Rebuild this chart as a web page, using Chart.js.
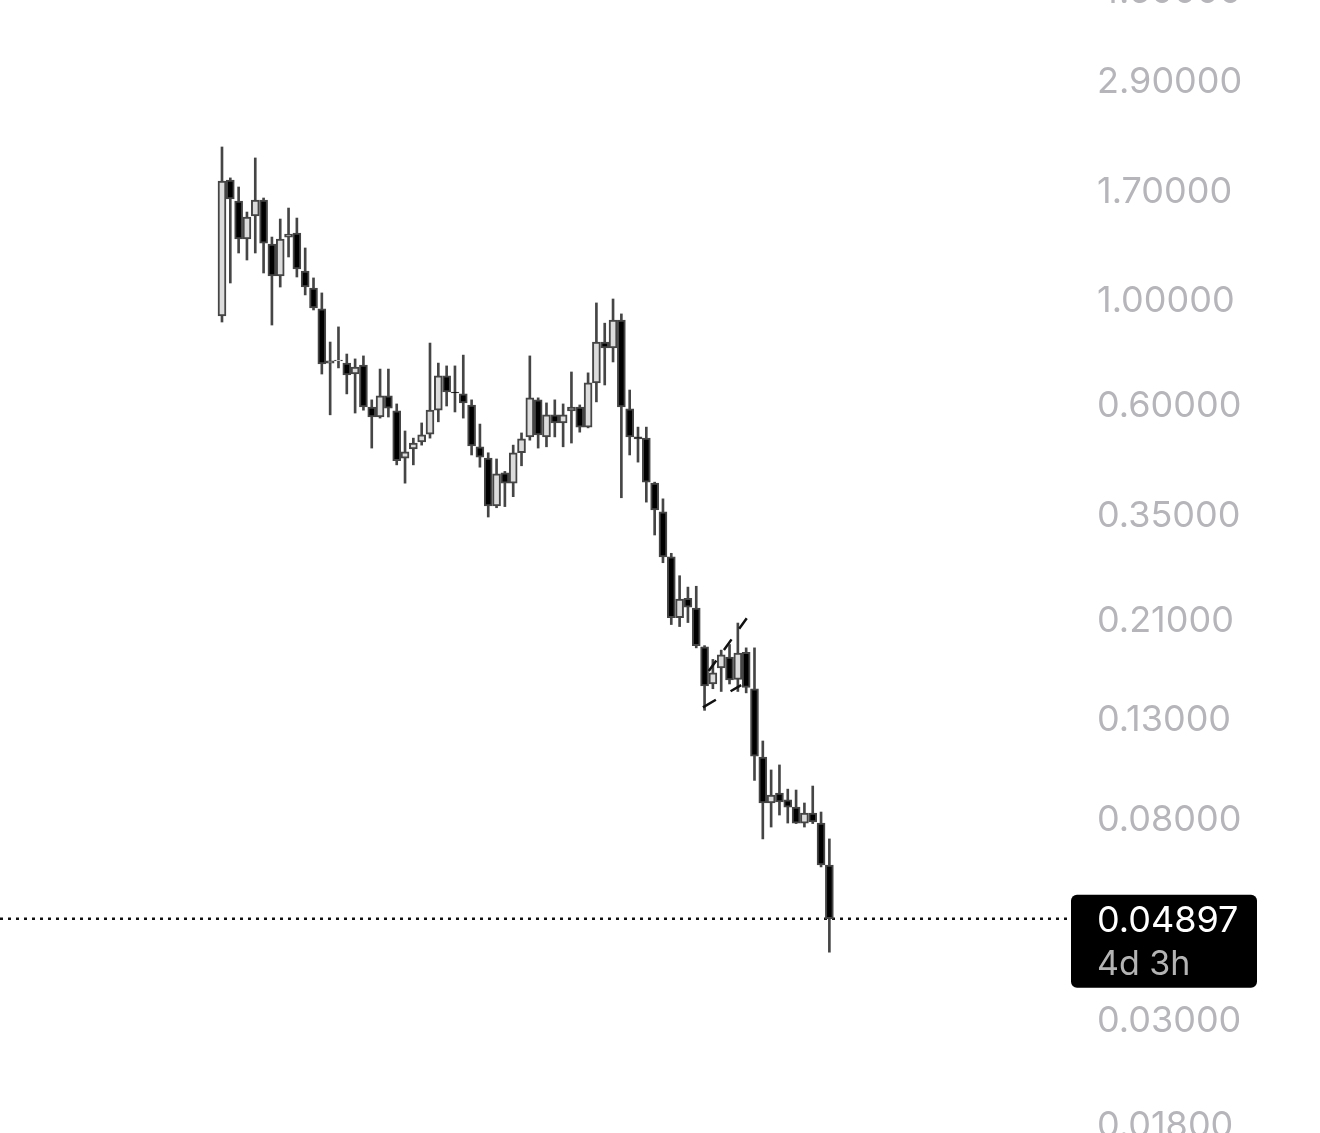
<!DOCTYPE html>
<html lang="en">
<head>
    <meta charset="UTF-8">
    <title>Candles</title>
    <script src="https://cdn.jsdelivr.net/npm/chart.js"></script>
    <style>
        body { margin: 0; background: #fff; }
        #wrap { position: relative; width: 1320px; height: 1133px; }
    </style>
</head>
<body>
    <div id="wrap"><canvas id="chart"></canvas></div>

    <script>
        // OHLC values, oldest first
        const opens = [0.921, 1.785, 1.611, 1.339, 1.498, 1.619, 1.307, 1.119, 1.352, 1.379,
            1.146, 1.055, 0.953, 0.732, 0.740, 0.732, 0.694, 0.725, 0.591, 0.563,
            0.624, 0.580, 0.461, 0.482, 0.499, 0.518, 0.582, 0.688, 0.636, 0.630,
            0.597, 0.487, 0.461, 0.365, 0.429, 0.408, 0.473, 0.511, 0.612, 0.511,
            0.569, 0.547, 0.580, 0.591, 0.536, 0.665, 0.811, 0.788, 0.903, 0.586,
            0.511, 0.508, 0.408, 0.355, 0.285, 0.212, 0.233, 0.222, 0.184, 0.1535,
            0.166, 0.175, 0.157, 0.179, 0.150, 0.1076, 0.0860, 0.0903, 0.0873, 0.0843,
            0.0780, 0.0819, 0.0780, 0.0636];
        const highs = [2.096, 1.803, 1.725, 1.527, 1.987, 1.635, 1.352, 1.476, 1.557, 1.483,
            1.282, 1.108, 1.030, 0.811, 0.873, 0.765, 0.747, 0.758, 0.612, 0.711,
            0.711, 0.600, 0.526, 0.508, 0.547, 0.807, 0.732, 0.722, 0.722, 0.761,
            0.612, 0.544, 0.473, 0.459, 0.432, 0.491, 0.521, 0.758, 0.618, 0.603,
            0.612, 0.600, 0.701, 0.597, 0.698, 0.981, 0.889, 1.000, 0.930, 0.642,
            0.536, 0.536, 0.410, 0.378, 0.290, 0.260, 0.246, 0.247, 0.185, 0.173,
            0.181, 0.186, 0.2065, 0.183, 0.183, 0.1163, 0.1010, 0.1035, 0.0920, 0.0916,
            0.0860, 0.0934, 0.0823, 0.0722];
        const lows = [0.894, 1.081, 1.251, 1.209, 1.251, 1.135, 0.881, 1.060, 1.227, 1.113,
            1.020, 0.948, 0.694, 0.569, 0.715, 0.630, 0.574, 0.582, 0.484, 0.560,
            0.563, 0.446, 0.408, 0.446, 0.491, 0.508, 0.550, 0.594, 0.577, 0.560,
            0.468, 0.441, 0.346, 0.362, 0.364, 0.382, 0.444, 0.503, 0.484, 0.487,
            0.511, 0.487, 0.496, 0.523, 0.534, 0.606, 0.658, 0.736, 0.380, 0.468,
            0.452, 0.372, 0.317, 0.277, 0.205, 0.203, 0.207, 0.183, 0.135, 0.150,
            0.148, 0.1535, 0.148, 0.147, 0.096, 0.0722, 0.0765, 0.0811, 0.0780, 0.0778,
            0.0765, 0.0778, 0.0630, 0.0416];
        const closes = [1.776, 1.627, 1.339, 1.490, 1.619, 1.313, 1.119, 1.339, 1.372, 1.157,
            1.060, 0.957, 0.729, 0.740, 0.743, 0.691, 0.718, 0.591, 0.563, 0.624,
            0.588, 0.455, 0.475, 0.496, 0.516, 0.582, 0.688, 0.636, 0.633, 0.603,
            0.489, 0.463, 0.365, 0.427, 0.408, 0.473, 0.506, 0.618, 0.516, 0.569,
            0.547, 0.569, 0.591, 0.536, 0.665, 0.811, 0.788, 0.903, 0.591, 0.511,
            0.506, 0.410, 0.358, 0.285, 0.212, 0.232, 0.223, 0.185, 0.152, 0.162,
            0.177, 0.1565, 0.1785, 0.151, 0.108, 0.0860, 0.0894, 0.0864, 0.0843, 0.0780,
            0.0819, 0.0784, 0.0636, 0.04897];

        // price axis labels
        const yTicks = [4.5, 2.9, 1.7, 1.0, 0.6, 0.35, 0.21, 0.13, 0.08, 0.03, 0.018];

        // drawn flag lines: [candle index, price]
        const flagUpper = [[58.5, 0.1635], [63.1, 0.2117]];
        const flagLower = [[57.8, 0.1370], [62.4, 0.1527]];

        const lastPrice = 0.04897;
        const timeLeft = '4d 3h';

        // visible window of the chart
        const xMin = -26.68, xMax = 101.92;
        const yMin = 0.017251, yMax = 4.2867;

        const bodies = opens.map((o, i) => ({ x: i, y: [Math.min(o, closes[i]), Math.max(o, closes[i])] }));
        const wicks = lows.map((l, i) => ({ x: i, y: [l, highs[i]] }));
        const bodyColors = opens.map((o, i) => closes[i] >= o ? '#dcdcdc' : '#000000');

        // black price box on the axis
        const priceBox = {
            id: 'priceBox',
            afterDraw(chart) {
                const ctx = chart.ctx;
                const y = chart.scales.y.getPixelForValue(lastPrice);
                const left = chart.chartArea.right + 1;
                ctx.save();
                ctx.fillStyle = '#000';
                ctx.beginPath();
                ctx.roundRect(left, y - 24, 186, 93, 6);
                ctx.fill();
                ctx.textBaseline = 'middle';
                ctx.textAlign = 'left';
                ctx.font = '36px Inter';
                ctx.fillStyle = '#fff';
                ctx.fillText(lastPrice.toFixed(5), left + 26, y + 2);
                ctx.font = '34px Inter';
                ctx.fillStyle = '#b4b4b4';
                ctx.fillText(timeLeft, left + 26, y + 46);
                ctx.restore();
            }
        };

        new Chart(document.getElementById('chart'), {
            type: 'bar',
            data: {
                datasets: [
                    {
                        type: 'line',
                        data: [{ x: xMin, y: lastPrice }, { x: xMax, y: lastPrice }],
                        borderColor: '#111',
                        borderWidth: 2.5,
                        borderDash: [3, 5],
                        pointRadius: 0,
                        order: 2
                    },
                    {
                        data: wicks,
                        backgroundColor: '#454545',
                        barThickness: 2,
                        grouped: false,
                        order: 1
                    },
                    {
                        data: bodies,
                        backgroundColor: bodyColors,
                        borderColor: '#454545',
                        borderWidth: 2,
                        borderSkipped: false,
                        barThickness: 8,
                        grouped: false,
                        order: 0
                    },
                    {
                        type: 'line',
                        data: flagUpper.map(p => ({ x: p[0], y: p[1] })),
                        borderColor: '#111',
                        borderWidth: 2.5,
                        borderDash: [13, 13],
                        pointRadius: 0,
                        order: -1
                    },
                    {
                        type: 'line',
                        data: flagLower.map(p => ({ x: p[0], y: p[1] })),
                        borderColor: '#111',
                        borderWidth: 2.5,
                        borderDash: [15, 17],
                        pointRadius: 0,
                        order: -1
                    }
                ]
            },
            options: {
                responsive: true,
                maintainAspectRatio: false,
                animation: false,
                layout: { padding: 0 },
                plugins: { legend: { display: false }, tooltip: { enabled: false } },
                scales: {
                    x: {
                        type: 'linear',
                        min: xMin,
                        max: xMax,
                        offset: false,
                        display: false
                    },
                    y: {
                        type: 'logarithmic',
                        position: 'right',
                        min: yMin,
                        max: yMax,
                        grid: { display: false },
                        border: { display: false },
                        afterBuildTicks: scale => {
                            scale.ticks = yTicks.map(v => ({ value: v }));
                        },
                        afterFit: scale => {
                            scale.width = 250;
                            scale.paddingTop = 0;
                            scale.paddingBottom = 0;
                        },
                        ticks: {
                            autoSkip: false,
                            padding: 19,
                            labelOffset: 2,
                            crossAlign: 'near',
                            color: '#b5b5ba',
                            font: { family: 'Inter', size: 36 },
                            callback: v => Number(v).toFixed(5)
                        }
                    }
                }
            },
            plugins: [priceBox]
        });
    </script>
</body>
</html>
